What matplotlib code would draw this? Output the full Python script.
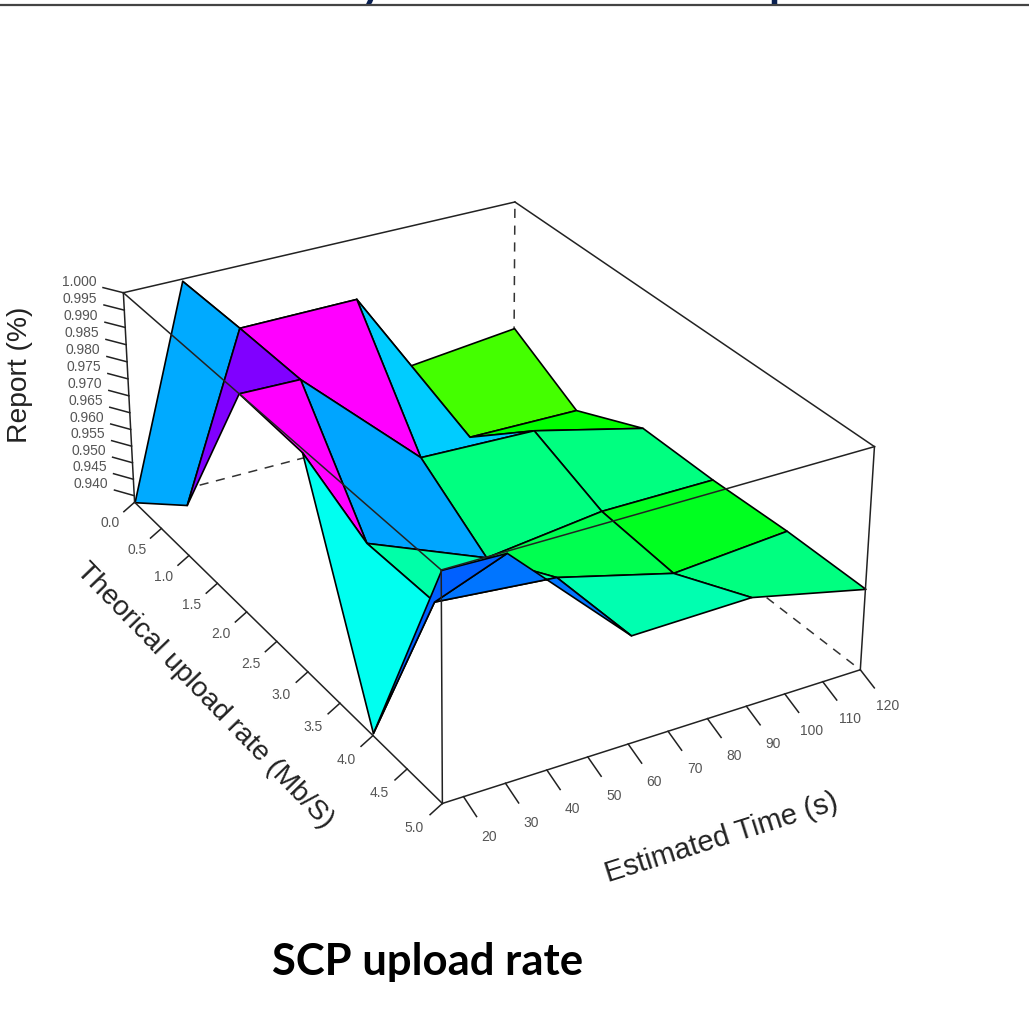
import matplotlib
matplotlib.use('Agg')
import matplotlib.pyplot as plt
from matplotlib.axes import Axes
from mpl_toolkits.mplot3d import proj3d
from mpl_toolkits.mplot3d.art3d import Poly3DCollection

# grid of the surface
rates = [0, 1, 2, 3, 4, 5]
times = [15, 30, 60, 90, 120]
# report per rate (rows) and time (columns)
report = [
    [0.938, 0.9995, 0.940, 0.958, 0.9615],
    [0.953, 0.9998, 1.000, 0.951, 0.9505],
    [1.000, 0.9997, 0.969, 0.968, 0.960],
    [0.999, 0.9696, 0.956, 0.960, 0.960],
    [0.9387, 0.970, 0.967, 0.9585, 0.961],
    [1.000, 0.9996, 0.968, 0.9685, 0.961],
]
# colour of each facet
facet_colors = [
    ['#00AAFF', '#00CCFF', '#00E0FF', '#44FF00'],
    ['#8000FF', '#FF00FF', '#00CCFF', '#00FF00'],
    ['#FF00FF', '#00A5FF', '#00FF80', '#00FF80'],
    ['#00FFF0', '#00FFA8', '#00FF50', '#00FF20'],
    ['#0060FF', '#0075FF', '#00FFB0', '#00FF80'],
]
rate_ticks = [0.0, 0.5, 1.0, 1.5, 2.0, 2.5, 3.0, 3.5, 4.0, 4.5, 5.0]
time_ticks = [20, 30, 40, 50, 60, 70, 80, 90, 100, 110, 120]
report_ticks = [0.940, 0.945, 0.950, 0.955, 0.960, 0.965, 0.970, 0.975, 0.980, 0.985, 0.990, 0.995, 1.000]

x0, x1 = 0, 5
y0, y1 = 15, 120
z0, z1 = 0.938, 1.0

W, H = 1029, 1009
fig = plt.figure(figsize=(W / 100, H / 100), dpi=100, facecolor='white')
plt.rcParams['font.family'] = ['Liberation Sans', 'DejaVu Sans']

ax = fig.add_axes([0.1, 0.1, 0.8, 0.8], projection='3d', computed_zorder=False)
ax.set_xlim(x0, x1)
ax.set_ylim(y0, y1)
ax.set_zlim(z0, z1)
ax.set_proj_type('persp', focal_length=1)
# camera fitted to the box corners of the picture
ax.view_init(elev=28.1225, azim=-30.1518, roll=-0.088)
ax.set_box_aspect((2.7059, 1.9073, 1.0), zoom=1.3163)
ax.set_axis_off()
ax.patch.set_alpha(0)

# place the axes so that one projected unit is 3377.4 pixels
xl = Axes.get_xlim(ax)
yl = Axes.get_ylim(ax)
S = 3377.403 * (xl[1] - xl[0])
cx = 481.848 + 3377.403 * (xl[0] + xl[1]) / 2
cy = 532.86 + 3377.403 * (yl[0] + yl[1]) / 2
ax.set_position([(cx - S / 2) / W, (cy - S / 2) / H, S / W, S / H])


def edge(p, q, zorder, **kw):
    line, = ax.plot([p[0], q[0]], [p[1], q[1]], [p[2], q[2]], zorder=zorder, clip_on=False, **kw)
    return line


def label3d(x, y, z, s):
    # tick labels keep their size and stay horizontal, so only their anchor is projected
    u, v, _ = proj3d.proj_transform(x, y, z, ax.get_proj())
    ax.text2D(u, v, s, transform=ax.transData, fontsize=10, color='#555555', ha='center', va='center')


# hidden box edges
dash = dict(color='#333333', lw=1.1, dashes=(6, 5))
edge((x0, y0, z0), (x0, y1, z0), 1, **dash)
edge((x0, y1, z0), (x1, y1, z0), 1, **dash)
edge((x0, y1, z0), (x0, y1, z1), 1, **dash)

# surface, far facets first
order = 2
for i in range(len(rates) - 1):
    for j in range(len(times) - 2, -1, -1):
        verts = [
            (rates[i], times[j], report[i][j]),
            (rates[i + 1], times[j], report[i + 1][j]),
            (rates[i + 1], times[j + 1], report[i + 1][j + 1]),
            (rates[i], times[j + 1], report[i][j + 1]),
        ]
        poly = Poly3DCollection([verts], facecolors=facet_colors[i][j], edgecolors='black',
                                linewidths=1.2, zorder=order)
        poly.set_clip_on(False)
        ax.add_collection3d(poly, autolim=False)
        order += 1

# visible box edges
solid = dict(color='#222222', lw=1.1)
box_edges = [
    ((x0, y0, z0), (x1, y0, z0)), ((x1, y0, z0), (x1, y1, z0)),
    ((x0, y0, z0), (x0, y0, z1)), ((x1, y0, z0), (x1, y0, z1)), ((x1, y1, z0), (x1, y1, z1)),
    ((x0, y0, z1), (x1, y0, z1)), ((x1, y0, z1), (x1, y1, z1)),
    ((x1, y1, z1), (x0, y1, z1)), ((x0, y1, z1), (x0, y0, z1)),
]
for p, q in box_edges:
    edge(p, q, 100, **solid)

# ticks and tick labels
for r in rate_ticks:
    edge((r, y0, z0), (r, y0 - 2.9, z0 - 0.002), 100, **solid)
    label3d(r, y0 - 6.6, z0 - 0.0044, f'{r:.1f}')
for t in time_ticks:
    edge((x1, t, z0), (x1 + 0.18, t, z0 - 0.002), 100, **solid)
    label3d(x1 + 0.35, t, z0 - 0.0042, f'{t}')
for v in report_ticks:
    edge((x0, y0, v), (x0 - 0.165, y0 - 2.9, v), 100, **solid)
    label3d(x0 - 0.36, y0 - 6.4, v, f'{v:.3f}')

# axis titles
label_color = '#222222'
fig.text(20 / W, 1 - 375 / H, 'Report (%)', fontsize=20.3, rotation=90, color=label_color, ha='center', va='center')
fig.text(205 / W, 1 - 696 / H, 'Theorical upload rate (Mb/S)', fontsize=20.3, rotation=-46, color=label_color,
         ha='center', va='center', rotation_mode='anchor')
fig.text(722 / W, 1 - 838 / H, 'Estimated Time (s)', fontsize=21, rotation=17.6, color=label_color,
         ha='center', va='center', rotation_mode='anchor')

# caption
fig.text(427.5 / W, 1 - 962 / H, 'SCP upload rate', fontsize=31.4, fontweight='bold', family='Lato', color='black',
         ha='center', va='center')

# slide rule and the ends of the slide title, cut by the top of the page
fig.add_artist(plt.Line2D([0, 1], [1 - 5 / H, 1 - 5 / H], color='#444444', lw=1.6))
fig.text(373 / W, 1 + 3 / H, 'y', fontsize=32, fontweight='bold', family='Lato', color='#0A2050', ha='center', va='baseline')
fig.text(781 / W, 1 + 3 / H, 'p', fontsize=32, fontweight='bold', family='Lato', color='#0A2050', ha='center', va='baseline')

fig.savefig('out.png', dpi=100)
